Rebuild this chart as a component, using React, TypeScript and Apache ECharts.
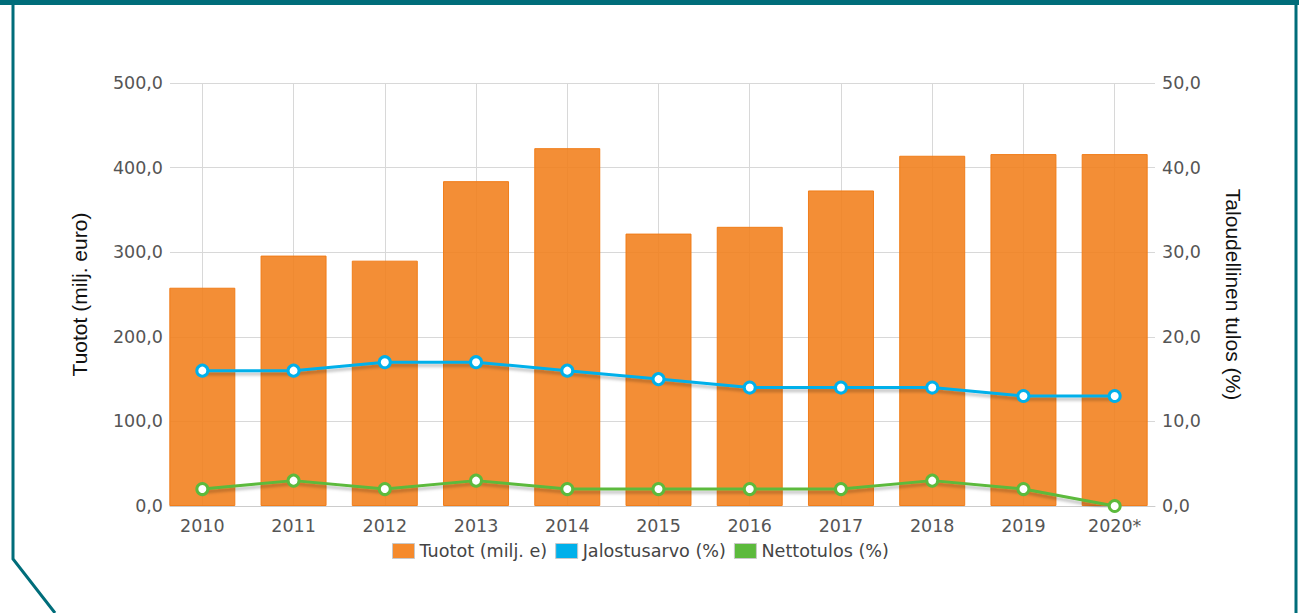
import React, { useEffect, useRef } from "react";
import * as echarts from "echarts";

const years = ["2010", "2011", "2012", "2013", "2014", "2015", "2016", "2017", "2018", "2019", "2020*"];
const tuotot = [258, 296, 290, 384, 423, 322, 330, 373, 414, 416, 416];
const jalostusarvo = [16, 16, 17, 17, 16, 15, 14, 14, 14, 13, 13];
const nettotulos = [2, 3, 2, 3, 2, 2, 2, 2, 3, 2, 0];
const seriesNames = ["Tuotot (milj. e)", "Jalostusarvo (%)", "Nettotulos (%)"];
const colors = ["#f58a2c", "#00b0ea", "#5cba3c"];

const fmt = (v: number) => v.toFixed(1).replace(".", ",");

export default function App() {
  const ref = useRef<HTMLDivElement>(null);
  useEffect(() => {
    if (!ref.current) return;
    const chart = echarts.init(ref.current, null, { renderer: "svg" });
    const tickFont = { fontFamily: "DejaVu Sans", fontSize: 17.5, color: "#555" };
    const frame = "#006d7a";
    chart.setOption({
      animation: false,
      backgroundColor: "#fff",
      textStyle: { fontFamily: "DejaVu Sans" },
      graphic: [
        { type: "rect", shape: { x: 0, y: 0, width: 1299, height: 5 }, style: { fill: frame } },
        { type: "polyline", shape: { points: [[13, 0], [13, 559], [55, 613]] }, style: { stroke: frame, lineWidth: 3, fill: "none" } },
        { type: "line", shape: { x1: 1296, y1: 0, x2: 1296, y2: 613 }, style: { stroke: frame, lineWidth: 3 } },
      ],
      grid: [
        { left: 156.7, right: 138.7, top: 83, bottom: 107 },
        { left: 170, right: 144, top: 83, bottom: 107 },
        { left: 202.3, right: 184.3, top: 83, bottom: 107 },
      ],
      legend: {
        bottom: 53,
        left: 392,
        icon: "rect",
        itemWidth: 22,
        itemHeight: 15,
        itemGap: 8,
        padding: 0,
        textStyle: { fontFamily: "DejaVu Sans", fontSize: 17.6, color: "#444" },
        data: seriesNames.map((n, i) => ({
          name: n,
          itemStyle: { color: colors[i], borderColor: "#c8c8c8", borderWidth: 1, opacity: 1 },
        })),
      },
      xAxis: [
        {
          type: "category",
          gridIndex: 0,
          data: years,
          axisLine: { show: false },
          axisTick: { show: false },
          axisLabel: { ...tickFont, margin: 11 },
          splitLine: { show: false },
        },
        {
          type: "value",
          gridIndex: 1,
          min: 0,
          max: 1,
          axisLine: { show: true, lineStyle: { color: "#cccccc", width: 1 } },
          axisTick: { show: false },
          axisLabel: { show: false },
          splitLine: { show: false },
        },
        {
          type: "value",
          gridIndex: 2,
          min: 0,
          max: 10,
          interval: 1,
          axisLine: { show: false },
          axisTick: { show: false },
          axisLabel: { show: false },
          splitLine: { show: true, lineStyle: { color: "#d8d8d8", width: 1 } },
        },
      ],
      yAxis: [
        { type: "value", gridIndex: 0, min: 0, max: 500, interval: 100, show: false },
        { type: "value", gridIndex: 0, min: 0, max: 50, interval: 10, show: false },
        {
          type: "value",
          gridIndex: 1,
          position: "left",
          min: 0,
          max: 500,
          interval: 100,
          name: "Tuotot (milj. euro)",
          nameLocation: "middle",
          nameRotate: 90,
          nameGap: 80,
          nameTextStyle: { fontFamily: "Liberation Sans", fontSize: 21, color: "#111" },
          axisLine: { show: false },
          axisTick: { show: false },
          axisLabel: { ...tickFont, margin: 7, formatter: fmt },
          splitLine: { show: true, lineStyle: { color: "#d8d8d8", width: 1 } },
        },
        {
          type: "value",
          gridIndex: 1,
          position: "right",
          min: 0,
          max: 50,
          interval: 10,
          name: "Taloudellinen tulos (%)",
          nameLocation: "middle",
          nameRotate: -90,
          nameGap: 68,
          nameTextStyle: { fontFamily: "Liberation Sans", fontSize: 21, color: "#111" },
          axisLine: { show: false },
          axisTick: { show: false },
          axisLabel: { ...tickFont, margin: 7, formatter: fmt },
          splitLine: { show: false },
        },
        { type: "value", gridIndex: 2, min: 0, max: 1, show: false },
      ],
      series: [
        {
          name: seriesNames[0],
          type: "bar",
          xAxisIndex: 0,
          yAxisIndex: 0,
          data: tuotot,
          barWidth: 66,
          itemStyle: {
            color: "rgba(242,130,32,0.9)",
            borderColor: "rgba(240,122,20,0.95)",
            borderWidth: 1,
          },
        },
        {
          name: seriesNames[1],
          type: "line",
          xAxisIndex: 0,
          yAxisIndex: 1,
          data: jalostusarvo,
          symbol: "circle",
          symbolSize: 11,
          lineStyle: { color: colors[1], width: 3, shadowColor: "rgba(0,0,0,0.25)", shadowBlur: 3, shadowOffsetY: 3 },
          itemStyle: { color: "#fff", borderColor: colors[1], borderWidth: 3 },
          z: 3,
        },
        {
          name: seriesNames[2],
          type: "line",
          xAxisIndex: 0,
          yAxisIndex: 1,
          data: nettotulos,
          symbol: "circle",
          symbolSize: 11,
          lineStyle: { color: colors[2], width: 3, shadowColor: "rgba(0,0,0,0.25)", shadowBlur: 3, shadowOffsetY: 3 },
          itemStyle: { color: "#fff", borderColor: colors[2], borderWidth: 3 },
          z: 3,
        },
      ],
    });
    return () => chart.dispose();
  }, []);
  return (
    <div
      ref={ref}
      style={{ position: "fixed", left: 0, top: 0, width: 1299, height: 613 }}
    />
  );
}
